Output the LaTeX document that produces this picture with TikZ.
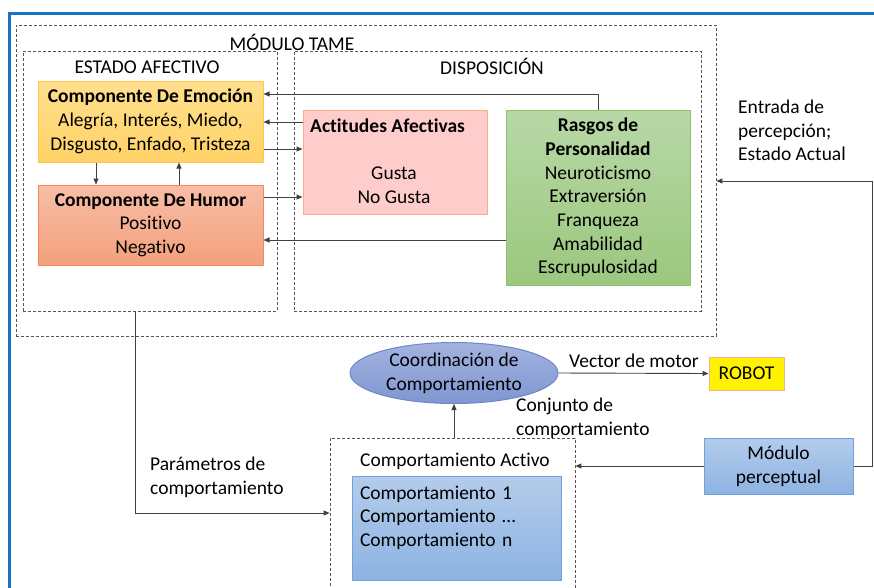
\documentclass[tikz,border=0pt]{standalone}
\usepackage{fontspec}
\setmainfont{Carlito}[Ligatures={NoCommon,NoContextual},Contextuals={NoAlternate}]
\usetikzlibrary{arrows.meta,shapes.geometric}
\definecolor{framebl}{HTML}{1A73C4}
\definecolor{linegray}{HTML}{404040}
\definecolor{dashgray}{HTML}{555555}
\definecolor{emoT}{HTML}{FFE08E}
\definecolor{emoB}{HTML}{FFD266}
\definecolor{emoD}{HTML}{FFC64D}
\definecolor{humT}{HTML}{F7BEA6}
\definecolor{humB}{HTML}{F4A07C}
\definecolor{humD}{HTML}{F08A58}
\definecolor{actF}{HTML}{FFCCCC}
\definecolor{actD}{HTML}{F4B183}
\definecolor{rasT}{HTML}{B8D8A6}
\definecolor{rasB}{HTML}{9BC77E}
\definecolor{rasD}{HTML}{8CC26C}
\definecolor{ellT}{HTML}{A3B3E0}
\definecolor{ellB}{HTML}{7F96D1}
\definecolor{ellD}{HTML}{7086C6}
\definecolor{bluT}{HTML}{B4CCEB}
\definecolor{bluB}{HTML}{8DB3E2}
\definecolor{bluD}{HTML}{6FA2DC}
\begin{document}
\begin{tikzpicture}[x=1pt,y=-1pt,
  every node/.style={font=\fontsize{19.5}{23.7}\selectfont, inner sep=0pt, text=black},
  conn/.style={draw=linegray, line width=0.9pt},
  arr/.style={conn, -{Triangle[length=6pt,width=5pt]}},
  dbox/.style={draw=dashgray, line width=0.8pt, dash pattern=on 3pt off 2pt, rectangle, inner sep=0pt},
  sbox/.style={rectangle, line width=1pt, align=center},
  bf/.style={font=\fontsize{19.5}{23.7}\selectfont\bfseries}
]
\useasboundingbox (0,0) rectangle (874,587);
\clip (0,0) rectangle (874,587);
\fill[white] (0,0) rectangle (874,587);

% slide frame
\draw[framebl, line width=3pt] (9,600) -- (9,13) -- (880,13);

% dashed containers
\node[dbox, minimum width=700, minimum height=311] (tame) at (366,180.5) {};
\node[dbox, minimum width=254, minimum height=260] (ea) at (150,181) {};
\node[dbox, minimum width=407, minimum height=260] (disp) at (497.5,181) {};
\node[dbox, minimum width=245, minimum height=200] (ca) at (452.5,538) {};

\node (ttame) at (292,42) {MÓDULO TAME};
\node (tea) at (147,67) {ESTADO AFECTIVO};
\node (tdisp) at (492,66) {DISPOSICIÓN};

% boxes
\node[sbox, draw=emoD, top color=emoT, bottom color=emoB, minimum width=225, minimum height=81] (emo) at (150.5,121.5)
  {\textbf{Componente De Emoción}\\Alegría, Interés, Miedo,\\Disgusto, Enfado, Tristeza};
\node[sbox, draw=humD, top color=humT, bottom color=humB, minimum width=225, minimum height=80] (hum) at (150.5,225)
  {\textbf{Componente De Humor}\\Positivo\\Negativo};
\node[sbox, draw=actD, fill=actF, minimum width=184, minimum height=104] (act) at (395,162) {};
\node[anchor=base west, bf] (tact) at (310,132.5) {Actitudes Afectivas};
\node[align=center] (gusta) at (394,185.5) {Gusta\\No Gusta};
\node[sbox, draw=rasD, top color=rasT, bottom color=rasB, minimum width=184, minimum height=175] (ras) at (598,197.5)
  {\textbf{Rasgos de}\\\textbf{Personalidad}\\Neuroticismo\\Extraversión\\Franqueza\\Amabilidad\\Escrupulosidad};

\node[ellipse, draw=ellD, line width=1pt, top color=ellT, bottom color=ellB, minimum width=208, minimum height=61, align=center] (ell) at (454,373)
  {Coordinación de\\Comportamiento};
\node[rectangle, draw=actD, line width=1pt, fill=yellow, minimum width=75, minimum height=33] (robot) at (746.5,373.5) {ROBOT};
\node[sbox, draw=bluD, top color=bluT, bottom color=bluB, minimum width=149, minimum height=56] (mp) at (778.5,466)
  {Módulo\\perceptual};
\node[rectangle, draw=bluD, line width=1pt, top color=bluT, bottom color=bluB, minimum width=209, minimum height=104,
  text width=193, inner xsep=8, align=left] (cb) at (456.5,528)
  {Comportamiento 1\\Comportamiento …\\Comportamiento n\\~};
\node (tca) at (455,461) {Comportamiento Activo};

% labels
\node[anchor=west, align=left] (lvec) at (569,361) {Vector de motor};
\node[anchor=west, align=left] (lconj) at (516,418.5) {Conjunto de\\comportamiento};
\node[anchor=west, align=left] (lpar) at (150,477) {Parámetros de\\comportamiento};
\node[anchor=west, align=left] (lent) at (738,130.5) {Entrada de\\percepción;\\Estado Actual};

% helper coordinates
\coordinate (y94) at (0,94);
\coordinate (y122) at (0,122);
\coordinate (y149) at (0,149);
\coordinate (y197) at (0,197);
\coordinate (y240) at (0,240);
\coordinate (y181) at (0,181);
\coordinate (y513) at (0,513);
\coordinate (x96) at (96,0);
\coordinate (x179) at (179,0);
\coordinate (x135) at (135,0);
\coordinate (x872) at (872,0);

% connectors
\draw[arr] (ras.north) -- (ras.north |- y94) -- (emo.east |- y94);
\draw[arr] (act.west |- y122) -- (emo.east |- y122);
\draw[arr] (emo.east |- y149) -- (act.west |- y149);
\draw[arr] (hum.east |- y197) -- (act.west |- y197);
\draw[arr] (ras.west |- y240) -- (hum.east |- y240);
\draw[arr] (x96 |- emo.south) -- (x96 |- hum.north);
\draw[arr] (x179 |- hum.north) -- (x179 |- emo.south);
\draw[arr] (x135 |- ea.south) -- (x135 |- y513) -- (ca.west |- y513);
\draw[arr] (ell.east) -- (robot.west);
\draw[arr] (ell.south |- ca.north) -- (ell.south);
\draw[arr] (mp.west) -- (ca.east |- mp.west);
\draw[arr] (mp.east) -- (x872 |- mp.east) -- (x872 |- y181) -- (tame.east |- y181);
\end{tikzpicture}
\end{document}
